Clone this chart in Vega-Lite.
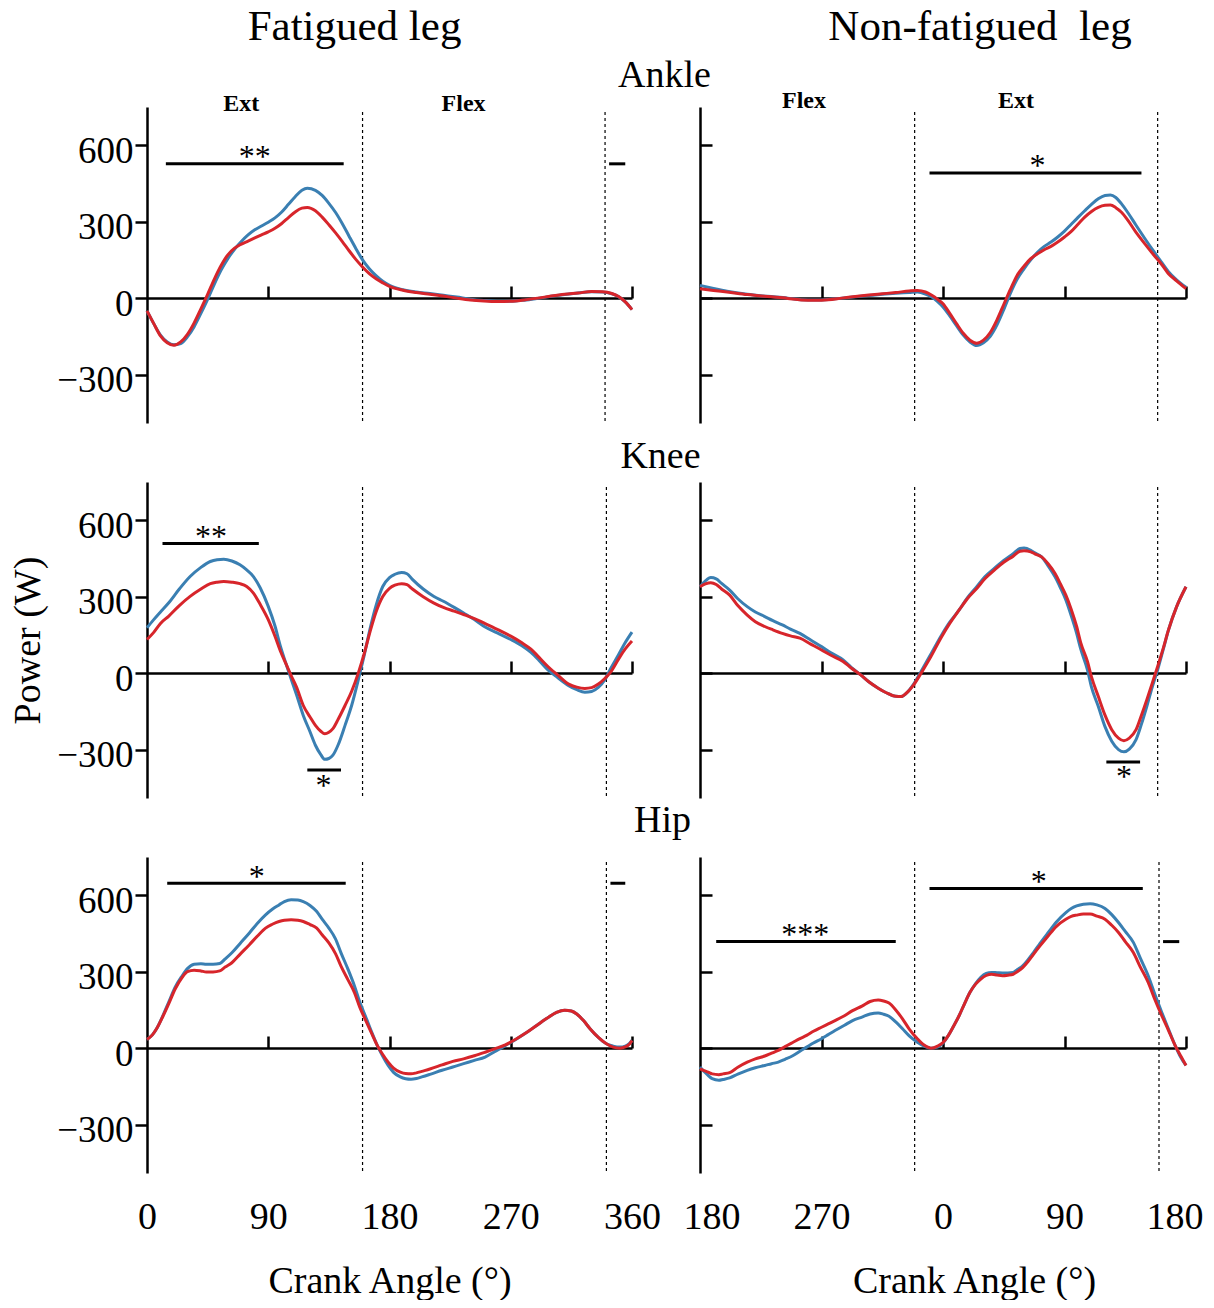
{
"$schema": "https://vega.github.io/schema/vega-lite/v6.json",
"background": "white",
"padding": {"left": 9, "top": 6, "right": 0, "bottom": 0},
"config": {
  "font": "Liberation Serif",
  "view": {"stroke": null},
  "axis": {"grid": false, "domainColor": "black", "tickColor": "black", "labelColor": "black", "titleColor": "black", "labelFont": "Liberation Serif", "titleFont": "Liberation Serif", "titleFontWeight": "normal"},
  "title": {"font": "Liberation Serif", "fontWeight": "normal", "color": "black"}
},
"datasets": {
"v": [{"p":"AL","a":160},{"p":"AL","a":340},{"p":"KL","a":160},{"p":"KL","a":341},{"p":"HL","a":160},{"p":"HL","a":341},{"p":"AR","a":339},{"p":"AR","a":519},{"p":"KR","a":339},{"p":"KR","a":519},{"p":"HR","a":339},{"p":"HR","a":520}],
"b": [{"p":"AL","a":14,"a2":146,"w":527},{"p":"AL","a":343,"a2":355,"w":527},{"p":"AR","a":350,"a2":507,"w":491},{"p":"KL","a":11.5,"a2":83,"w":509},{"p":"KL","a":119,"a2":144,"w":-380},{"p":"KR","a":481,"a2":506,"w":-349},{"p":"HL","a":15,"a2":147.5,"w":647},{"p":"HL","a":344,"a2":355,"w":647},{"p":"HR","a":192,"a2":325,"w":418},{"p":"HR","a":350,"a2":508,"w":626},{"p":"HR","a":523,"a2":535,"w":418}],
"t": [{"p":"AL","a":80,"w":514,"t":"**"},{"p":"AR","a":430,"w":478,"t":"*"},{"p":"KL","a":47.5,"w":496,"t":"**"},{"p":"KL","a":131,"w":-483,"t":"*"},{"p":"KR","a":494,"w":-447,"t":"*"},{"p":"HL","a":81.5,"w":634,"t":"*"},{"p":"HR","a":258,"w":405,"t":"***"},{"p":"HR","a":431,"w":613,"t":"*"}],
"e": [{"p":"AL","a":70,"w":760,"t":"Ext"},{"p":"AL","a":235,"w":760,"t":"Flex"},{"p":"AR","a":257,"w":772,"t":"Flex"},{"p":"AR","a":414,"w":772,"t":"Ext"}],
"c": [
{"p":"AL","s":"Pre","a":0,"w":-50},{"p":"AL","s":"Pre","a":5,"w":-100},{"p":"AL","s":"Pre","a":10,"w":-145},{"p":"AL","s":"Pre","a":15,"w":-172},{"p":"AL","s":"Pre","a":20,"w":-183},{"p":"AL","s":"Pre","a":25,"w":-178},{"p":"AL","s":"Pre","a":30,"w":-152},{"p":"AL","s":"Pre","a":35,"w":-112},{"p":"AL","s":"Pre","a":40,"w":-60},{"p":"AL","s":"Pre","a":45,"w":-5},{"p":"AL","s":"Pre","a":50,"w":55},{"p":"AL","s":"Pre","a":55,"w":110},{"p":"AL","s":"Pre","a":60,"w":155},{"p":"AL","s":"Pre","a":65,"w":192},{"p":"AL","s":"Pre","a":70,"w":222},{"p":"AL","s":"Pre","a":75,"w":248},{"p":"AL","s":"Pre","a":80,"w":268},{"p":"AL","s":"Pre","a":85,"w":283},{"p":"AL","s":"Pre","a":90,"w":298},{"p":"AL","s":"Pre","a":95,"w":315},{"p":"AL","s":"Pre","a":100,"w":338},{"p":"AL","s":"Pre","a":105,"w":368},{"p":"AL","s":"Pre","a":110,"w":398},{"p":"AL","s":"Pre","a":115,"w":423},{"p":"AL","s":"Pre","a":119,"w":431},{"p":"AL","s":"Pre","a":125,"w":423},{"p":"AL","s":"Pre","a":130,"w":403},{"p":"AL","s":"Pre","a":135,"w":372},{"p":"AL","s":"Pre","a":140,"w":336},{"p":"AL","s":"Pre","a":145,"w":292},{"p":"AL","s":"Pre","a":150,"w":243},{"p":"AL","s":"Pre","a":155,"w":195},{"p":"AL","s":"Pre","a":160,"w":150},{"p":"AL","s":"Pre","a":165,"w":115},{"p":"AL","s":"Pre","a":170,"w":88},{"p":"AL","s":"Pre","a":175,"w":66},{"p":"AL","s":"Pre","a":180,"w":50},{"p":"AL","s":"Pre","a":190,"w":33},{"p":"AL","s":"Pre","a":200,"w":24},{"p":"AL","s":"Pre","a":210,"w":18},{"p":"AL","s":"Pre","a":220,"w":11},{"p":"AL","s":"Pre","a":230,"w":4},{"p":"AL","s":"Pre","a":240,"w":-4},{"p":"AL","s":"Pre","a":250,"w":-9},{"p":"AL","s":"Pre","a":260,"w":-12},{"p":"AL","s":"Pre","a":270,"w":-12},{"p":"AL","s":"Pre","a":280,"w":-8},{"p":"AL","s":"Pre","a":290,"w":-1},{"p":"AL","s":"Pre","a":300,"w":7},{"p":"AL","s":"Pre","a":310,"w":14},{"p":"AL","s":"Pre","a":320,"w":20},{"p":"AL","s":"Pre","a":330,"w":25},{"p":"AL","s":"Pre","a":338,"w":24},{"p":"AL","s":"Pre","a":345,"w":17},{"p":"AL","s":"Pre","a":350,"w":6},{"p":"AL","s":"Pre","a":355,"w":-15},{"p":"AL","s":"Pre","a":360,"w":-45},
{"p":"AL","s":"Post","a":0,"w":-50},{"p":"AL","s":"Post","a":5,"w":-100},{"p":"AL","s":"Post","a":10,"w":-148},{"p":"AL","s":"Post","a":15,"w":-175},{"p":"AL","s":"Post","a":20,"w":-185},{"p":"AL","s":"Post","a":25,"w":-172},{"p":"AL","s":"Post","a":30,"w":-142},{"p":"AL","s":"Post","a":35,"w":-97},{"p":"AL","s":"Post","a":40,"w":-42},{"p":"AL","s":"Post","a":45,"w":15},{"p":"AL","s":"Post","a":50,"w":75},{"p":"AL","s":"Post","a":55,"w":128},{"p":"AL","s":"Post","a":60,"w":170},{"p":"AL","s":"Post","a":65,"w":196},{"p":"AL","s":"Post","a":70,"w":212},{"p":"AL","s":"Post","a":75,"w":224},{"p":"AL","s":"Post","a":80,"w":236},{"p":"AL","s":"Post","a":85,"w":248},{"p":"AL","s":"Post","a":90,"w":260},{"p":"AL","s":"Post","a":95,"w":274},{"p":"AL","s":"Post","a":100,"w":293},{"p":"AL","s":"Post","a":105,"w":316},{"p":"AL","s":"Post","a":110,"w":338},{"p":"AL","s":"Post","a":115,"w":353},{"p":"AL","s":"Post","a":119,"w":356},{"p":"AL","s":"Post","a":125,"w":343},{"p":"AL","s":"Post","a":130,"w":318},{"p":"AL","s":"Post","a":135,"w":288},{"p":"AL","s":"Post","a":140,"w":256},{"p":"AL","s":"Post","a":145,"w":222},{"p":"AL","s":"Post","a":150,"w":186},{"p":"AL","s":"Post","a":155,"w":152},{"p":"AL","s":"Post","a":160,"w":122},{"p":"AL","s":"Post","a":165,"w":96},{"p":"AL","s":"Post","a":170,"w":76},{"p":"AL","s":"Post","a":175,"w":60},{"p":"AL","s":"Post","a":180,"w":46},{"p":"AL","s":"Post","a":190,"w":31},{"p":"AL","s":"Post","a":200,"w":22},{"p":"AL","s":"Post","a":210,"w":15},{"p":"AL","s":"Post","a":220,"w":8},{"p":"AL","s":"Post","a":230,"w":0},{"p":"AL","s":"Post","a":240,"w":-7},{"p":"AL","s":"Post","a":250,"w":-11},{"p":"AL","s":"Post","a":260,"w":-13},{"p":"AL","s":"Post","a":270,"w":-12},{"p":"AL","s":"Post","a":280,"w":-7},{"p":"AL","s":"Post","a":290,"w":0},{"p":"AL","s":"Post","a":300,"w":8},{"p":"AL","s":"Post","a":310,"w":15},{"p":"AL","s":"Post","a":320,"w":20},{"p":"AL","s":"Post","a":330,"w":26},{"p":"AL","s":"Post","a":338,"w":25},{"p":"AL","s":"Post","a":345,"w":18},{"p":"AL","s":"Post","a":350,"w":6},{"p":"AL","s":"Post","a":355,"w":-15},{"p":"AL","s":"Post","a":360,"w":-45},
{"p":"AR","s":"Pre","a":180,"w":50},{"p":"AR","s":"Pre","a":190,"w":38},{"p":"AR","s":"Pre","a":200,"w":27},{"p":"AR","s":"Pre","a":215,"w":15},{"p":"AR","s":"Pre","a":230,"w":7},{"p":"AR","s":"Pre","a":245,"w":0},{"p":"AR","s":"Pre","a":255,"w":-6},{"p":"AR","s":"Pre","a":265,"w":-7},{"p":"AR","s":"Pre","a":275,"w":-5},{"p":"AR","s":"Pre","a":285,"w":0},{"p":"AR","s":"Pre","a":295,"w":5},{"p":"AR","s":"Pre","a":305,"w":10},{"p":"AR","s":"Pre","a":315,"w":15},{"p":"AR","s":"Pre","a":325,"w":19},{"p":"AR","s":"Pre","a":335,"w":22},{"p":"AR","s":"Pre","a":341,"w":24},{"p":"AR","s":"Pre","a":347,"w":16},{"p":"AR","s":"Pre","a":352,"w":3},{"p":"AR","s":"Pre","a":356,"w":-14},{"p":"AR","s":"Pre","a":360,"w":-35},{"p":"AR","s":"Pre","a":365,"w":-70},{"p":"AR","s":"Pre","a":370,"w":-108},{"p":"AR","s":"Pre","a":375,"w":-145},{"p":"AR","s":"Pre","a":380,"w":-172},{"p":"AR","s":"Pre","a":385,"w":-186},{"p":"AR","s":"Pre","a":390,"w":-175},{"p":"AR","s":"Pre","a":395,"w":-150},{"p":"AR","s":"Pre","a":400,"w":-105},{"p":"AR","s":"Pre","a":405,"w":-45},{"p":"AR","s":"Pre","a":410,"w":20},{"p":"AR","s":"Pre","a":415,"w":75},{"p":"AR","s":"Pre","a":420,"w":115},{"p":"AR","s":"Pre","a":425,"w":150},{"p":"AR","s":"Pre","a":430,"w":180},{"p":"AR","s":"Pre","a":435,"w":203},{"p":"AR","s":"Pre","a":440,"w":220},{"p":"AR","s":"Pre","a":445,"w":240},{"p":"AR","s":"Pre","a":450,"w":263},{"p":"AR","s":"Pre","a":455,"w":290},{"p":"AR","s":"Pre","a":460,"w":317},{"p":"AR","s":"Pre","a":465,"w":343},{"p":"AR","s":"Pre","a":470,"w":368},{"p":"AR","s":"Pre","a":475,"w":390},{"p":"AR","s":"Pre","a":480,"w":403},{"p":"AR","s":"Pre","a":484,"w":405},{"p":"AR","s":"Pre","a":488,"w":395},{"p":"AR","s":"Pre","a":492,"w":372},{"p":"AR","s":"Pre","a":497,"w":335},{"p":"AR","s":"Pre","a":503,"w":286},{"p":"AR","s":"Pre","a":510,"w":230},{"p":"AR","s":"Pre","a":516,"w":184},{"p":"AR","s":"Pre","a":522,"w":140},{"p":"AR","s":"Pre","a":527,"w":104},{"p":"AR","s":"Pre","a":533,"w":72},{"p":"AR","s":"Pre","a":540,"w":43},
{"p":"AR","s":"Post","a":180,"w":37},{"p":"AR","s":"Post","a":190,"w":30},{"p":"AR","s":"Post","a":200,"w":24},{"p":"AR","s":"Post","a":215,"w":14},{"p":"AR","s":"Post","a":230,"w":6},{"p":"AR","s":"Post","a":245,"w":-1},{"p":"AR","s":"Post","a":255,"w":-7},{"p":"AR","s":"Post","a":265,"w":-8},{"p":"AR","s":"Post","a":275,"w":-6},{"p":"AR","s":"Post","a":285,"w":0},{"p":"AR","s":"Post","a":295,"w":6},{"p":"AR","s":"Post","a":305,"w":12},{"p":"AR","s":"Post","a":315,"w":17},{"p":"AR","s":"Post","a":325,"w":22},{"p":"AR","s":"Post","a":335,"w":28},{"p":"AR","s":"Post","a":341,"w":30},{"p":"AR","s":"Post","a":347,"w":24},{"p":"AR","s":"Post","a":352,"w":10},{"p":"AR","s":"Post","a":356,"w":-5},{"p":"AR","s":"Post","a":360,"w":-22},{"p":"AR","s":"Post","a":365,"w":-60},{"p":"AR","s":"Post","a":370,"w":-100},{"p":"AR","s":"Post","a":375,"w":-138},{"p":"AR","s":"Post","a":380,"w":-165},{"p":"AR","s":"Post","a":385,"w":-177},{"p":"AR","s":"Post","a":390,"w":-165},{"p":"AR","s":"Post","a":395,"w":-135},{"p":"AR","s":"Post","a":400,"w":-85},{"p":"AR","s":"Post","a":405,"w":-25},{"p":"AR","s":"Post","a":410,"w":35},{"p":"AR","s":"Post","a":415,"w":90},{"p":"AR","s":"Post","a":420,"w":125},{"p":"AR","s":"Post","a":425,"w":155},{"p":"AR","s":"Post","a":430,"w":174},{"p":"AR","s":"Post","a":435,"w":190},{"p":"AR","s":"Post","a":440,"w":203},{"p":"AR","s":"Post","a":445,"w":220},{"p":"AR","s":"Post","a":450,"w":240},{"p":"AR","s":"Post","a":455,"w":262},{"p":"AR","s":"Post","a":460,"w":290},{"p":"AR","s":"Post","a":465,"w":318},{"p":"AR","s":"Post","a":470,"w":340},{"p":"AR","s":"Post","a":475,"w":356},{"p":"AR","s":"Post","a":480,"w":364},{"p":"AR","s":"Post","a":484,"w":365},{"p":"AR","s":"Post","a":488,"w":355},{"p":"AR","s":"Post","a":492,"w":338},{"p":"AR","s":"Post","a":497,"w":305},{"p":"AR","s":"Post","a":503,"w":258},{"p":"AR","s":"Post","a":510,"w":210},{"p":"AR","s":"Post","a":516,"w":170},{"p":"AR","s":"Post","a":522,"w":132},{"p":"AR","s":"Post","a":527,"w":96},{"p":"AR","s":"Post","a":533,"w":68},{"p":"AR","s":"Post","a":540,"w":37},
{"p":"KL","s":"Pre","a":0,"w":178},{"p":"KL","s":"Pre","a":5,"w":210},{"p":"KL","s":"Pre","a":10,"w":240},{"p":"KL","s":"Pre","a":16,"w":275},{"p":"KL","s":"Pre","a":24,"w":330},{"p":"KL","s":"Pre","a":32,"w":379},{"p":"KL","s":"Pre","a":40,"w":415},{"p":"KL","s":"Pre","a":47,"w":438},{"p":"KL","s":"Pre","a":52,"w":445},{"p":"KL","s":"Pre","a":57,"w":447},{"p":"KL","s":"Pre","a":63,"w":440},{"p":"KL","s":"Pre","a":69,"w":425},{"p":"KL","s":"Pre","a":74,"w":405},{"p":"KL","s":"Pre","a":79,"w":379},{"p":"KL","s":"Pre","a":84,"w":335},{"p":"KL","s":"Pre","a":90,"w":262},{"p":"KL","s":"Pre","a":95,"w":185},{"p":"KL","s":"Pre","a":99,"w":106},{"p":"KL","s":"Pre","a":103,"w":40},{"p":"KL","s":"Pre","a":107,"w":-23},{"p":"KL","s":"Pre","a":111,"w":-85},{"p":"KL","s":"Pre","a":116,"w":-166},{"p":"KL","s":"Pre","a":121,"w":-230},{"p":"KL","s":"Pre","a":125,"w":-283},{"p":"KL","s":"Pre","a":129,"w":-320},{"p":"KL","s":"Pre","a":132,"w":-338},{"p":"KL","s":"Pre","a":135,"w":-335},{"p":"KL","s":"Pre","a":138,"w":-322},{"p":"KL","s":"Pre","a":142,"w":-280},{"p":"KL","s":"Pre","a":147,"w":-205},{"p":"KL","s":"Pre","a":152,"w":-125},{"p":"KL","s":"Pre","a":157,"w":-23},{"p":"KL","s":"Pre","a":161,"w":65},{"p":"KL","s":"Pre","a":166,"w":184},{"p":"KL","s":"Pre","a":170,"w":265},{"p":"KL","s":"Pre","a":175,"w":340},{"p":"KL","s":"Pre","a":180,"w":375},{"p":"KL","s":"Pre","a":184,"w":388},{"p":"KL","s":"Pre","a":189,"w":395},{"p":"KL","s":"Pre","a":193,"w":390},{"p":"KL","s":"Pre","a":197,"w":368},{"p":"KL","s":"Pre","a":205,"w":330},{"p":"KL","s":"Pre","a":213,"w":301},{"p":"KL","s":"Pre","a":220,"w":282},{"p":"KL","s":"Pre","a":228,"w":258},{"p":"KL","s":"Pre","a":235,"w":236},{"p":"KL","s":"Pre","a":243,"w":210},{"p":"KL","s":"Pre","a":250,"w":184},{"p":"KL","s":"Pre","a":260,"w":158},{"p":"KL","s":"Pre","a":270,"w":132},{"p":"KL","s":"Pre","a":278,"w":108},{"p":"KL","s":"Pre","a":285,"w":81},{"p":"KL","s":"Pre","a":291,"w":50},{"p":"KL","s":"Pre","a":297,"w":16},{"p":"KL","s":"Pre","a":305,"w":-18},{"p":"KL","s":"Pre","a":313,"w":-49},{"p":"KL","s":"Pre","a":319,"w":-65},{"p":"KL","s":"Pre","a":325,"w":-75},{"p":"KL","s":"Pre","a":330,"w":-72},{"p":"KL","s":"Pre","a":335,"w":-56},{"p":"KL","s":"Pre","a":340,"w":-25},{"p":"KL","s":"Pre","a":344,"w":16},{"p":"KL","s":"Pre","a":350,"w":72},{"p":"KL","s":"Pre","a":355,"w":120},{"p":"KL","s":"Pre","a":360,"w":161},
{"p":"KL","s":"Post","a":0,"w":132},{"p":"KL","s":"Post","a":5,"w":160},{"p":"KL","s":"Post","a":10,"w":195},{"p":"KL","s":"Post","a":16,"w":223},{"p":"KL","s":"Post","a":24,"w":265},{"p":"KL","s":"Post","a":32,"w":301},{"p":"KL","s":"Post","a":40,"w":330},{"p":"KL","s":"Post","a":47,"w":351},{"p":"KL","s":"Post","a":52,"w":357},{"p":"KL","s":"Post","a":57,"w":360},{"p":"KL","s":"Post","a":63,"w":357},{"p":"KL","s":"Post","a":69,"w":351},{"p":"KL","s":"Post","a":74,"w":340},{"p":"KL","s":"Post","a":79,"w":314},{"p":"KL","s":"Post","a":84,"w":270},{"p":"KL","s":"Post","a":90,"w":210},{"p":"KL","s":"Post","a":95,"w":145},{"p":"KL","s":"Post","a":99,"w":87},{"p":"KL","s":"Post","a":103,"w":38},{"p":"KL","s":"Post","a":107,"w":-10},{"p":"KL","s":"Post","a":111,"w":-55},{"p":"KL","s":"Post","a":116,"w":-127},{"p":"KL","s":"Post","a":121,"w":-172},{"p":"KL","s":"Post","a":125,"w":-205},{"p":"KL","s":"Post","a":129,"w":-228},{"p":"KL","s":"Post","a":132,"w":-238},{"p":"KL","s":"Post","a":135,"w":-232},{"p":"KL","s":"Post","a":138,"w":-218},{"p":"KL","s":"Post","a":142,"w":-180},{"p":"KL","s":"Post","a":147,"w":-127},{"p":"KL","s":"Post","a":152,"w":-70},{"p":"KL","s":"Post","a":157,"w":3},{"p":"KL","s":"Post","a":161,"w":72},{"p":"KL","s":"Post","a":166,"w":171},{"p":"KL","s":"Post","a":170,"w":240},{"p":"KL","s":"Post","a":175,"w":301},{"p":"KL","s":"Post","a":180,"w":333},{"p":"KL","s":"Post","a":184,"w":345},{"p":"KL","s":"Post","a":189,"w":351},{"p":"KL","s":"Post","a":193,"w":347},{"p":"KL","s":"Post","a":197,"w":330},{"p":"KL","s":"Post","a":205,"w":300},{"p":"KL","s":"Post","a":213,"w":275},{"p":"KL","s":"Post","a":220,"w":258},{"p":"KL","s":"Post","a":228,"w":243},{"p":"KL","s":"Post","a":235,"w":230},{"p":"KL","s":"Post","a":243,"w":214},{"p":"KL","s":"Post","a":250,"w":197},{"p":"KL","s":"Post","a":260,"w":172},{"p":"KL","s":"Post","a":270,"w":145},{"p":"KL","s":"Post","a":278,"w":120},{"p":"KL","s":"Post","a":285,"w":94},{"p":"KL","s":"Post","a":291,"w":62},{"p":"KL","s":"Post","a":297,"w":29},{"p":"KL","s":"Post","a":305,"w":-8},{"p":"KL","s":"Post","a":313,"w":-43},{"p":"KL","s":"Post","a":319,"w":-55},{"p":"KL","s":"Post","a":325,"w":-60},{"p":"KL","s":"Post","a":330,"w":-57},{"p":"KL","s":"Post","a":335,"w":-43},{"p":"KL","s":"Post","a":340,"w":-20},{"p":"KL","s":"Post","a":344,"w":3},{"p":"KL","s":"Post","a":350,"w":55},{"p":"KL","s":"Post","a":355,"w":95},{"p":"KL","s":"Post","a":360,"w":126},
{"p":"KR","s":"Pre","a":180,"w":339},{"p":"KR","s":"Pre","a":184,"w":362},{"p":"KR","s":"Pre","a":188,"w":375},{"p":"KR","s":"Pre","a":192,"w":370},{"p":"KR","s":"Pre","a":196,"w":352},{"p":"KR","s":"Pre","a":202,"w":326},{"p":"KR","s":"Pre","a":208,"w":292},{"p":"KR","s":"Pre","a":215,"w":261},{"p":"KR","s":"Pre","a":221,"w":240},{"p":"KR","s":"Pre","a":228,"w":222},{"p":"KR","s":"Pre","a":234,"w":206},{"p":"KR","s":"Pre","a":241,"w":189},{"p":"KR","s":"Pre","a":247,"w":173},{"p":"KR","s":"Pre","a":254,"w":156},{"p":"KR","s":"Pre","a":262,"w":130},{"p":"KR","s":"Pre","a":270,"w":104},{"p":"KR","s":"Pre","a":277,"w":80},{"p":"KR","s":"Pre","a":286,"w":52},{"p":"KR","s":"Pre","a":292,"w":23},{"p":"KR","s":"Pre","a":299,"w":-7},{"p":"KR","s":"Pre","a":305,"w":-34},{"p":"KR","s":"Pre","a":312,"w":-59},{"p":"KR","s":"Pre","a":318,"w":-77},{"p":"KR","s":"Pre","a":325,"w":-91},{"p":"KR","s":"Pre","a":329,"w":-92},{"p":"KR","s":"Pre","a":333,"w":-78},{"p":"KR","s":"Pre","a":338,"w":-45},{"p":"KR","s":"Pre","a":343,"w":0},{"p":"KR","s":"Pre","a":350,"w":65},{"p":"KR","s":"Pre","a":359,"w":150},{"p":"KR","s":"Pre","a":365,"w":200},{"p":"KR","s":"Pre","a":372,"w":248},{"p":"KR","s":"Pre","a":378,"w":295},{"p":"KR","s":"Pre","a":385,"w":339},{"p":"KR","s":"Pre","a":391,"w":378},{"p":"KR","s":"Pre","a":398,"w":411},{"p":"KR","s":"Pre","a":405,"w":442},{"p":"KR","s":"Pre","a":412,"w":469},{"p":"KR","s":"Pre","a":417,"w":489},{"p":"KR","s":"Pre","a":420,"w":491},{"p":"KR","s":"Pre","a":425,"w":482},{"p":"KR","s":"Pre","a":428,"w":472},{"p":"KR","s":"Pre","a":433,"w":456},{"p":"KR","s":"Pre","a":438,"w":420},{"p":"KR","s":"Pre","a":443,"w":378},{"p":"KR","s":"Pre","a":447,"w":335},{"p":"KR","s":"Pre","a":451,"w":287},{"p":"KR","s":"Pre","a":455,"w":225},{"p":"KR","s":"Pre","a":459,"w":156},{"p":"KR","s":"Pre","a":462,"w":95},{"p":"KR","s":"Pre","a":467,"w":13},{"p":"KR","s":"Pre","a":470,"w":-55},{"p":"KR","s":"Pre","a":475,"w":-130},{"p":"KR","s":"Pre","a":480,"w":-210},{"p":"KR","s":"Pre","a":485,"w":-267},{"p":"KR","s":"Pre","a":490,"w":-300},{"p":"KR","s":"Pre","a":494,"w":-309},{"p":"KR","s":"Pre","a":498,"w":-298},{"p":"KR","s":"Pre","a":503,"w":-261},{"p":"KR","s":"Pre","a":507,"w":-200},{"p":"KR","s":"Pre","a":511,"w":-130},{"p":"KR","s":"Pre","a":515,"w":-55},{"p":"KR","s":"Pre","a":519,"w":13},{"p":"KR","s":"Pre","a":523,"w":90},{"p":"KR","s":"Pre","a":527,"w":169},{"p":"KR","s":"Pre","a":533,"w":260},{"p":"KR","s":"Pre","a":540,"w":339},
{"p":"KR","s":"Post","a":180,"w":339},{"p":"KR","s":"Post","a":184,"w":350},{"p":"KR","s":"Post","a":188,"w":355},{"p":"KR","s":"Post","a":192,"w":348},{"p":"KR","s":"Post","a":196,"w":330},{"p":"KR","s":"Post","a":202,"w":306},{"p":"KR","s":"Post","a":208,"w":265},{"p":"KR","s":"Post","a":215,"w":228},{"p":"KR","s":"Post","a":221,"w":202},{"p":"KR","s":"Post","a":228,"w":183},{"p":"KR","s":"Post","a":234,"w":170},{"p":"KR","s":"Post","a":241,"w":156},{"p":"KR","s":"Post","a":247,"w":146},{"p":"KR","s":"Post","a":254,"w":137},{"p":"KR","s":"Post","a":262,"w":114},{"p":"KR","s":"Post","a":270,"w":91},{"p":"KR","s":"Post","a":277,"w":70},{"p":"KR","s":"Post","a":286,"w":46},{"p":"KR","s":"Post","a":292,"w":20},{"p":"KR","s":"Post","a":299,"w":-7},{"p":"KR","s":"Post","a":305,"w":-34},{"p":"KR","s":"Post","a":312,"w":-59},{"p":"KR","s":"Post","a":318,"w":-77},{"p":"KR","s":"Post","a":325,"w":-91},{"p":"KR","s":"Post","a":329,"w":-92},{"p":"KR","s":"Post","a":333,"w":-78},{"p":"KR","s":"Post","a":338,"w":-48},{"p":"KR","s":"Post","a":343,"w":-7},{"p":"KR","s":"Post","a":350,"w":55},{"p":"KR","s":"Post","a":359,"w":143},{"p":"KR","s":"Post","a":365,"w":195},{"p":"KR","s":"Post","a":372,"w":248},{"p":"KR","s":"Post","a":378,"w":292},{"p":"KR","s":"Post","a":385,"w":332},{"p":"KR","s":"Post","a":391,"w":370},{"p":"KR","s":"Post","a":398,"w":404},{"p":"KR","s":"Post","a":405,"w":435},{"p":"KR","s":"Post","a":412,"w":459},{"p":"KR","s":"Post","a":417,"w":478},{"p":"KR","s":"Post","a":420,"w":480},{"p":"KR","s":"Post","a":425,"w":476},{"p":"KR","s":"Post","a":428,"w":468},{"p":"KR","s":"Post","a":433,"w":456},{"p":"KR","s":"Post","a":438,"w":428},{"p":"KR","s":"Post","a":443,"w":391},{"p":"KR","s":"Post","a":447,"w":350},{"p":"KR","s":"Post","a":451,"w":306},{"p":"KR","s":"Post","a":455,"w":250},{"p":"KR","s":"Post","a":459,"w":183},{"p":"KR","s":"Post","a":462,"w":120},{"p":"KR","s":"Post","a":467,"w":46},{"p":"KR","s":"Post","a":470,"w":-15},{"p":"KR","s":"Post","a":475,"w":-91},{"p":"KR","s":"Post","a":480,"w":-165},{"p":"KR","s":"Post","a":485,"w":-222},{"p":"KR","s":"Post","a":490,"w":-255},{"p":"KR","s":"Post","a":494,"w":-265},{"p":"KR","s":"Post","a":498,"w":-255},{"p":"KR","s":"Post","a":503,"w":-222},{"p":"KR","s":"Post","a":507,"w":-165},{"p":"KR","s":"Post","a":511,"w":-104},{"p":"KR","s":"Post","a":515,"w":-40},{"p":"KR","s":"Post","a":519,"w":26},{"p":"KR","s":"Post","a":523,"w":95},{"p":"KR","s":"Post","a":527,"w":169},{"p":"KR","s":"Post","a":533,"w":260},{"p":"KR","s":"Post","a":540,"w":339},
{"p":"HL","s":"Pre","a":0,"w":34},{"p":"HL","s":"Pre","a":4,"w":52},{"p":"HL","s":"Pre","a":7,"w":75},{"p":"HL","s":"Pre","a":12,"w":130},{"p":"HL","s":"Pre","a":16,"w":179},{"p":"HL","s":"Pre","a":21,"w":240},{"p":"HL","s":"Pre","a":26,"w":283},{"p":"HL","s":"Pre","a":30,"w":312},{"p":"HL","s":"Pre","a":35,"w":329},{"p":"HL","s":"Pre","a":40,"w":331},{"p":"HL","s":"Pre","a":44,"w":329},{"p":"HL","s":"Pre","a":49,"w":329},{"p":"HL","s":"Pre","a":54,"w":332},{"p":"HL","s":"Pre","a":58,"w":350},{"p":"HL","s":"Pre","a":63,"w":374},{"p":"HL","s":"Pre","a":69,"w":410},{"p":"HL","s":"Pre","a":76,"w":452},{"p":"HL","s":"Pre","a":82,"w":490},{"p":"HL","s":"Pre","a":88,"w":523},{"p":"HL","s":"Pre","a":93,"w":545},{"p":"HL","s":"Pre","a":98,"w":562},{"p":"HL","s":"Pre","a":102,"w":575},{"p":"HL","s":"Pre","a":107,"w":582},{"p":"HL","s":"Pre","a":112,"w":581},{"p":"HL","s":"Pre","a":116,"w":575},{"p":"HL","s":"Pre","a":121,"w":560},{"p":"HL","s":"Pre","a":126,"w":536},{"p":"HL","s":"Pre","a":130,"w":506},{"p":"HL","s":"Pre","a":135,"w":471},{"p":"HL","s":"Pre","a":140,"w":428},{"p":"HL","s":"Pre","a":144,"w":374},{"p":"HL","s":"Pre","a":149,"w":312},{"p":"HL","s":"Pre","a":154,"w":244},{"p":"HL","s":"Pre","a":158,"w":180},{"p":"HL","s":"Pre","a":163,"w":114},{"p":"HL","s":"Pre","a":167,"w":60},{"p":"HL","s":"Pre","a":171,"w":10},{"p":"HL","s":"Pre","a":175,"w":-32},{"p":"HL","s":"Pre","a":179,"w":-68},{"p":"HL","s":"Pre","a":183,"w":-95},{"p":"HL","s":"Pre","a":188,"w":-113},{"p":"HL","s":"Pre","a":192,"w":-120},{"p":"HL","s":"Pre","a":196,"w":-122},{"p":"HL","s":"Pre","a":200,"w":-119},{"p":"HL","s":"Pre","a":204,"w":-113},{"p":"HL","s":"Pre","a":210,"w":-103},{"p":"HL","s":"Pre","a":219,"w":-87},{"p":"HL","s":"Pre","a":227,"w":-74},{"p":"HL","s":"Pre","a":235,"w":-61},{"p":"HL","s":"Pre","a":243,"w":-48},{"p":"HL","s":"Pre","a":251,"w":-35},{"p":"HL","s":"Pre","a":258,"w":-14},{"p":"HL","s":"Pre","a":266,"w":10},{"p":"HL","s":"Pre","a":274,"w":35},{"p":"HL","s":"Pre","a":282,"w":62},{"p":"HL","s":"Pre","a":290,"w":92},{"p":"HL","s":"Pre","a":298,"w":121},{"p":"HL","s":"Pre","a":304,"w":140},{"p":"HL","s":"Pre","a":310,"w":149},{"p":"HL","s":"Pre","a":315,"w":146},{"p":"HL","s":"Pre","a":319,"w":134},{"p":"HL","s":"Pre","a":324,"w":108},{"p":"HL","s":"Pre","a":329,"w":75},{"p":"HL","s":"Pre","a":335,"w":42},{"p":"HL","s":"Pre","a":341,"w":17},{"p":"HL","s":"Pre","a":346,"w":8},{"p":"HL","s":"Pre","a":351,"w":4},{"p":"HL","s":"Pre","a":355,"w":8},{"p":"HL","s":"Pre","a":358,"w":18},{"p":"HL","s":"Pre","a":360,"w":30},
{"p":"HL","s":"Post","a":0,"w":34},{"p":"HL","s":"Post","a":4,"w":52},{"p":"HL","s":"Post","a":7,"w":75},{"p":"HL","s":"Post","a":12,"w":127},{"p":"HL","s":"Post","a":16,"w":173},{"p":"HL","s":"Post","a":21,"w":233},{"p":"HL","s":"Post","a":26,"w":277},{"p":"HL","s":"Post","a":30,"w":300},{"p":"HL","s":"Post","a":35,"w":306},{"p":"HL","s":"Post","a":40,"w":303},{"p":"HL","s":"Post","a":44,"w":299},{"p":"HL","s":"Post","a":49,"w":299},{"p":"HL","s":"Post","a":54,"w":303},{"p":"HL","s":"Post","a":58,"w":318},{"p":"HL","s":"Post","a":63,"w":335},{"p":"HL","s":"Post","a":69,"w":368},{"p":"HL","s":"Post","a":76,"w":406},{"p":"HL","s":"Post","a":82,"w":440},{"p":"HL","s":"Post","a":88,"w":471},{"p":"HL","s":"Post","a":93,"w":486},{"p":"HL","s":"Post","a":98,"w":497},{"p":"HL","s":"Post","a":102,"w":502},{"p":"HL","s":"Post","a":107,"w":504},{"p":"HL","s":"Post","a":112,"w":502},{"p":"HL","s":"Post","a":116,"w":497},{"p":"HL","s":"Post","a":121,"w":485},{"p":"HL","s":"Post","a":126,"w":471},{"p":"HL","s":"Post","a":130,"w":445},{"p":"HL","s":"Post","a":135,"w":413},{"p":"HL","s":"Post","a":140,"w":370},{"p":"HL","s":"Post","a":144,"w":322},{"p":"HL","s":"Post","a":149,"w":270},{"p":"HL","s":"Post","a":154,"w":218},{"p":"HL","s":"Post","a":158,"w":160},{"p":"HL","s":"Post","a":163,"w":101},{"p":"HL","s":"Post","a":167,"w":55},{"p":"HL","s":"Post","a":171,"w":10},{"p":"HL","s":"Post","a":175,"w":-25},{"p":"HL","s":"Post","a":179,"w":-55},{"p":"HL","s":"Post","a":183,"w":-78},{"p":"HL","s":"Post","a":188,"w":-94},{"p":"HL","s":"Post","a":192,"w":-100},{"p":"HL","s":"Post","a":196,"w":-101},{"p":"HL","s":"Post","a":200,"w":-97},{"p":"HL","s":"Post","a":204,"w":-91},{"p":"HL","s":"Post","a":210,"w":-82},{"p":"HL","s":"Post","a":219,"w":-66},{"p":"HL","s":"Post","a":227,"w":-52},{"p":"HL","s":"Post","a":235,"w":-42},{"p":"HL","s":"Post","a":243,"w":-30},{"p":"HL","s":"Post","a":251,"w":-16},{"p":"HL","s":"Post","a":258,"w":-3},{"p":"HL","s":"Post","a":266,"w":13},{"p":"HL","s":"Post","a":274,"w":36},{"p":"HL","s":"Post","a":282,"w":62},{"p":"HL","s":"Post","a":290,"w":92},{"p":"HL","s":"Post","a":298,"w":121},{"p":"HL","s":"Post","a":304,"w":140},{"p":"HL","s":"Post","a":310,"w":149},{"p":"HL","s":"Post","a":315,"w":146},{"p":"HL","s":"Post","a":319,"w":134},{"p":"HL","s":"Post","a":324,"w":108},{"p":"HL","s":"Post","a":329,"w":75},{"p":"HL","s":"Post","a":335,"w":42},{"p":"HL","s":"Post","a":341,"w":17},{"p":"HL","s":"Post","a":346,"w":4},{"p":"HL","s":"Post","a":351,"w":0},{"p":"HL","s":"Post","a":355,"w":5},{"p":"HL","s":"Post","a":358,"w":15},{"p":"HL","s":"Post","a":360,"w":30},
{"p":"HR","s":"Pre","a":180,"w":-74},{"p":"HR","s":"Pre","a":183,"w":-92},{"p":"HR","s":"Pre","a":186,"w":-107},{"p":"HR","s":"Pre","a":189,"w":-120},{"p":"HR","s":"Pre","a":194,"w":-126},{"p":"HR","s":"Pre","a":197,"w":-123},{"p":"HR","s":"Pre","a":202,"w":-117},{"p":"HR","s":"Pre","a":208,"w":-102},{"p":"HR","s":"Pre","a":215,"w":-87},{"p":"HR","s":"Pre","a":221,"w":-77},{"p":"HR","s":"Pre","a":228,"w":-68},{"p":"HR","s":"Pre","a":233,"w":-61},{"p":"HR","s":"Pre","a":238,"w":-55},{"p":"HR","s":"Pre","a":243,"w":-44},{"p":"HR","s":"Pre","a":249,"w":-29},{"p":"HR","s":"Pre","a":254,"w":-12},{"p":"HR","s":"Pre","a":259,"w":4},{"p":"HR","s":"Pre","a":264,"w":20},{"p":"HR","s":"Pre","a":270,"w":37},{"p":"HR","s":"Pre","a":275,"w":53},{"p":"HR","s":"Pre","a":280,"w":69},{"p":"HR","s":"Pre","a":287,"w":90},{"p":"HR","s":"Pre","a":293,"w":108},{"p":"HR","s":"Pre","a":300,"w":122},{"p":"HR","s":"Pre","a":306,"w":134},{"p":"HR","s":"Pre","a":312,"w":138},{"p":"HR","s":"Pre","a":316,"w":133},{"p":"HR","s":"Pre","a":320,"w":125},{"p":"HR","s":"Pre","a":325,"w":103},{"p":"HR","s":"Pre","a":330,"w":76},{"p":"HR","s":"Pre","a":335,"w":48},{"p":"HR","s":"Pre","a":341,"w":23},{"p":"HR","s":"Pre","a":346,"w":8},{"p":"HR","s":"Pre","a":351,"w":0},{"p":"HR","s":"Pre","a":356,"w":4},{"p":"HR","s":"Pre","a":360,"w":20},{"p":"HR","s":"Pre","a":364,"w":50},{"p":"HR","s":"Pre","a":368,"w":88},{"p":"HR","s":"Pre","a":372,"w":128},{"p":"HR","s":"Pre","a":376,"w":175},{"p":"HR","s":"Pre","a":380,"w":219},{"p":"HR","s":"Pre","a":384,"w":252},{"p":"HR","s":"Pre","a":388,"w":278},{"p":"HR","s":"Pre","a":392,"w":293},{"p":"HR","s":"Pre","a":396,"w":297},{"p":"HR","s":"Pre","a":400,"w":296},{"p":"HR","s":"Pre","a":404,"w":295},{"p":"HR","s":"Pre","a":408,"w":295},{"p":"HR","s":"Pre","a":412,"w":297},{"p":"HR","s":"Pre","a":415,"w":308},{"p":"HR","s":"Pre","a":419,"w":323},{"p":"HR","s":"Pre","a":423,"w":347},{"p":"HR","s":"Pre","a":427,"w":375},{"p":"HR","s":"Pre","a":432,"w":412},{"p":"HR","s":"Pre","a":438,"w":454},{"p":"HR","s":"Pre","a":444,"w":495},{"p":"HR","s":"Pre","a":451,"w":532},{"p":"HR","s":"Pre","a":455,"w":548},{"p":"HR","s":"Pre","a":459,"w":558},{"p":"HR","s":"Pre","a":464,"w":565},{"p":"HR","s":"Pre","a":469,"w":567},{"p":"HR","s":"Pre","a":474,"w":562},{"p":"HR","s":"Pre","a":480,"w":548},{"p":"HR","s":"Pre","a":485,"w":524},{"p":"HR","s":"Pre","a":490,"w":493},{"p":"HR","s":"Pre","a":495,"w":458},{"p":"HR","s":"Pre","a":501,"w":415},{"p":"HR","s":"Pre","a":506,"w":355},{"p":"HR","s":"Pre","a":512,"w":284},{"p":"HR","s":"Pre","a":517,"w":210},{"p":"HR","s":"Pre","a":522,"w":141},{"p":"HR","s":"Pre","a":527,"w":75},{"p":"HR","s":"Pre","a":532,"w":10},{"p":"HR","s":"Pre","a":536,"w":-35},{"p":"HR","s":"Pre","a":540,"w":-68},
{"p":"HR","s":"Post","a":180,"w":-81},{"p":"HR","s":"Post","a":183,"w":-88},{"p":"HR","s":"Post","a":186,"w":-94},{"p":"HR","s":"Post","a":189,"w":-101},{"p":"HR","s":"Post","a":194,"w":-104},{"p":"HR","s":"Post","a":197,"w":-101},{"p":"HR","s":"Post","a":202,"w":-96},{"p":"HR","s":"Post","a":208,"w":-75},{"p":"HR","s":"Post","a":215,"w":-55},{"p":"HR","s":"Post","a":221,"w":-42},{"p":"HR","s":"Post","a":228,"w":-31},{"p":"HR","s":"Post","a":233,"w":-20},{"p":"HR","s":"Post","a":238,"w":-9},{"p":"HR","s":"Post","a":243,"w":6},{"p":"HR","s":"Post","a":249,"w":23},{"p":"HR","s":"Post","a":254,"w":37},{"p":"HR","s":"Post","a":259,"w":50},{"p":"HR","s":"Post","a":264,"w":66},{"p":"HR","s":"Post","a":270,"w":82},{"p":"HR","s":"Post","a":275,"w":95},{"p":"HR","s":"Post","a":280,"w":108},{"p":"HR","s":"Post","a":287,"w":127},{"p":"HR","s":"Post","a":293,"w":147},{"p":"HR","s":"Post","a":300,"w":165},{"p":"HR","s":"Post","a":306,"w":183},{"p":"HR","s":"Post","a":312,"w":189},{"p":"HR","s":"Post","a":316,"w":185},{"p":"HR","s":"Post","a":320,"w":177},{"p":"HR","s":"Post","a":325,"w":150},{"p":"HR","s":"Post","a":330,"w":115},{"p":"HR","s":"Post","a":335,"w":75},{"p":"HR","s":"Post","a":341,"w":37},{"p":"HR","s":"Post","a":346,"w":12},{"p":"HR","s":"Post","a":351,"w":0},{"p":"HR","s":"Post","a":356,"w":8},{"p":"HR","s":"Post","a":360,"w":22},{"p":"HR","s":"Post","a":364,"w":50},{"p":"HR","s":"Post","a":368,"w":88},{"p":"HR","s":"Post","a":372,"w":128},{"p":"HR","s":"Post","a":376,"w":175},{"p":"HR","s":"Post","a":380,"w":219},{"p":"HR","s":"Post","a":384,"w":250},{"p":"HR","s":"Post","a":388,"w":271},{"p":"HR","s":"Post","a":392,"w":285},{"p":"HR","s":"Post","a":396,"w":290},{"p":"HR","s":"Post","a":400,"w":287},{"p":"HR","s":"Post","a":404,"w":284},{"p":"HR","s":"Post","a":408,"w":286},{"p":"HR","s":"Post","a":412,"w":290},{"p":"HR","s":"Post","a":415,"w":300},{"p":"HR","s":"Post","a":419,"w":316},{"p":"HR","s":"Post","a":423,"w":340},{"p":"HR","s":"Post","a":427,"w":368},{"p":"HR","s":"Post","a":432,"w":402},{"p":"HR","s":"Post","a":438,"w":441},{"p":"HR","s":"Post","a":444,"w":478},{"p":"HR","s":"Post","a":451,"w":506},{"p":"HR","s":"Post","a":455,"w":517},{"p":"HR","s":"Post","a":459,"w":522},{"p":"HR","s":"Post","a":464,"w":526},{"p":"HR","s":"Post","a":469,"w":526},{"p":"HR","s":"Post","a":474,"w":518},{"p":"HR","s":"Post","a":480,"w":506},{"p":"HR","s":"Post","a":485,"w":482},{"p":"HR","s":"Post","a":490,"w":454},{"p":"HR","s":"Post","a":495,"w":418},{"p":"HR","s":"Post","a":501,"w":375},{"p":"HR","s":"Post","a":506,"w":320},{"p":"HR","s":"Post","a":512,"w":258},{"p":"HR","s":"Post","a":517,"w":190},{"p":"HR","s":"Post","a":522,"w":128},{"p":"HR","s":"Post","a":527,"w":70},{"p":"HR","s":"Post","a":532,"w":10},{"p":"HR","s":"Post","a":536,"w":-30},{"p":"HR","s":"Post","a":540,"w":-68}
]
},
"columns": 2,
"spacing": {"row": 59, "column": 68},
"bounds": "flush",
"concat": [
{
 "width": 485, "height": 316,
 "title": {"text": "Fatigued leg", "fontSize": 43, "anchor": "middle", "dx": -35, "offset": 0, "baseline": "bottom"},
 "resolve": {"axis": {"x": "independent", "y": "independent"}},
 "layer": [
  {"data": {"name": "v"}, "transform": [{"filter": "datum.p == 'AL'"}], "mark": {"type": "rule", "strokeDash": [3, 3], "strokeWidth": 1.2, "color": "black"}, "encoding": {"x": {"field": "a", "type": "quantitative", "scale": {"domain": [0, 360], "nice": false, "zero": false}, "axis": null}, "y": {"datum": 730, "type": "quantitative", "scale": {"domain": [-490, 750], "nice": false, "zero": false}, "axis": null}, "y2": {"datum": -482}}},
  {"data": {"name": "c"}, "transform": [{"filter": "datum.p == 'AL'"}], "mark": {"type": "line", "strokeWidth": 3, "interpolate": "monotone"}, "encoding": {"x": {"field": "a", "type": "quantitative", "scale": {"domain": [0, 360], "nice": false, "zero": false}, "axis": {"orient": "top", "offset": -191, "values": [90, 180, 270, 360], "labels": false, "tickSize": 12, "tickWidth": 2.5, "domainWidth": 2.5, "title": null}}, "y": {"field": "w", "type": "quantitative", "scale": {"domain": [-490, 750], "nice": false, "zero": false}, "axis": {"values": [-300, 0, 300, 600], "tickSize": 12, "tickWidth": 2.5, "domainWidth": 2.5, "labelFontSize": 37, "labelPadding": 2, "labelOffset": 6, "title": null}}, "color": {"field": "s", "type": "nominal", "scale": {"domain": ["Pre", "Post"], "range": ["#3a7fb2", "#d7252b"]}, "legend": null}}},
  {"data": {"name": "b"}, "transform": [{"filter": "datum.p == 'AL'"}], "mark": {"type": "rule", "strokeWidth": 3, "color": "black"}, "encoding": {"x": {"field": "a", "type": "quantitative", "scale": {"domain": [0, 360], "nice": false, "zero": false}, "axis": null}, "x2": {"field": "a2"}, "y": {"field": "w", "type": "quantitative", "scale": {"domain": [-490, 750], "nice": false, "zero": false}, "axis": null}}},
  {"data": {"name": "t"}, "transform": [{"filter": "datum.p == 'AL'"}], "mark": {"type": "text", "fontSize": 32, "baseline": "alphabetic", "color": "black"}, "encoding": {"x": {"field": "a", "type": "quantitative", "scale": {"domain": [0, 360], "nice": false, "zero": false}, "axis": null}, "y": {"field": "w", "type": "quantitative", "scale": {"domain": [-490, 750], "nice": false, "zero": false}, "axis": null}, "text": {"field": "t"}}},
  {"data": {"name": "e"}, "transform": [{"filter": "datum.p == 'AL'"}], "mark": {"type": "text", "fontSize": 24, "fontWeight": "bold", "baseline": "middle", "color": "black"}, "encoding": {"x": {"field": "a", "type": "quantitative", "scale": {"domain": [0, 360], "nice": false, "zero": false}, "axis": null}, "y": {"field": "w", "type": "quantitative", "scale": {"domain": [-490, 750], "nice": false, "zero": false}, "axis": null}, "text": {"field": "t"}}}
 ]
},
{
 "width": 486, "height": 316,
 "title": {"text": "Non-fatigued\u00a0 leg", "fontSize": 43, "anchor": "middle", "dx": 37, "offset": -36, "baseline": "bottom"},
 "resolve": {"axis": {"x": "independent", "y": "independent"}},
 "layer": [
  {"data": {"name": "v"}, "transform": [{"filter": "datum.p == 'AR'"}], "mark": {"type": "rule", "strokeDash": [3, 3], "strokeWidth": 1.2, "color": "black"}, "encoding": {"x": {"field": "a", "type": "quantitative", "scale": {"domain": [180, 540], "nice": false, "zero": false}, "axis": null}, "y": {"datum": 730, "type": "quantitative", "scale": {"domain": [-490, 750], "nice": false, "zero": false}, "axis": null}, "y2": {"datum": -482}}},
  {"data": {"name": "c"}, "transform": [{"filter": "datum.p == 'AR'"}], "mark": {"type": "line", "strokeWidth": 3, "interpolate": "monotone"}, "encoding": {"x": {"field": "a", "type": "quantitative", "scale": {"domain": [180, 540], "nice": false, "zero": false}, "axis": {"orient": "top", "offset": -191, "values": [270, 360, 450, 540], "labels": false, "tickSize": 12, "tickWidth": 2.5, "domainWidth": 2.5, "title": "Ankle", "titleFontSize": 38, "titleAngle": 0, "titleAlign": "center", "titleBaseline": "alphabetic", "titleX": -36, "titleY": -212}}, "y": {"field": "w", "type": "quantitative", "scale": {"domain": [-490, 750], "nice": false, "zero": false}, "axis": {"values": [-300, 0, 300, 600], "tickSize": -12, "tickWidth": 2.5, "domainWidth": 2.5, "labels": false, "title": null}}, "color": {"field": "s", "type": "nominal", "scale": {"domain": ["Pre", "Post"], "range": ["#3a7fb2", "#d7252b"]}, "legend": null}}},
  {"data": {"name": "b"}, "transform": [{"filter": "datum.p == 'AR'"}], "mark": {"type": "rule", "strokeWidth": 3, "color": "black"}, "encoding": {"x": {"field": "a", "type": "quantitative", "scale": {"domain": [180, 540], "nice": false, "zero": false}, "axis": null}, "x2": {"field": "a2"}, "y": {"field": "w", "type": "quantitative", "scale": {"domain": [-490, 750], "nice": false, "zero": false}, "axis": null}}},
  {"data": {"name": "t"}, "transform": [{"filter": "datum.p == 'AR'"}], "mark": {"type": "text", "fontSize": 32, "baseline": "alphabetic", "color": "black"}, "encoding": {"x": {"field": "a", "type": "quantitative", "scale": {"domain": [180, 540], "nice": false, "zero": false}, "axis": null}, "y": {"field": "w", "type": "quantitative", "scale": {"domain": [-490, 750], "nice": false, "zero": false}, "axis": null}, "text": {"field": "t"}}},
  {"data": {"name": "e"}, "transform": [{"filter": "datum.p == 'AR'"}], "mark": {"type": "text", "fontSize": 24, "fontWeight": "bold", "baseline": "middle", "color": "black"}, "encoding": {"x": {"field": "a", "type": "quantitative", "scale": {"domain": [180, 540], "nice": false, "zero": false}, "axis": null}, "y": {"field": "w", "type": "quantitative", "scale": {"domain": [-490, 750], "nice": false, "zero": false}, "axis": null}, "text": {"field": "t"}}}
 ]
},
{
 "width": 485, "height": 316,
 "resolve": {"axis": {"x": "independent", "y": "independent"}},
 "layer": [
  {"data": {"name": "v"}, "transform": [{"filter": "datum.p == 'KL'"}], "mark": {"type": "rule", "strokeDash": [3, 3], "strokeWidth": 1.2, "color": "black"}, "encoding": {"x": {"field": "a", "type": "quantitative", "scale": {"domain": [0, 360], "nice": false, "zero": false}, "axis": null}, "y": {"datum": 730, "type": "quantitative", "scale": {"domain": [-490, 750], "nice": false, "zero": false}, "axis": null}, "y2": {"datum": -482}}},
  {"data": {"name": "c"}, "transform": [{"filter": "datum.p == 'KL'"}], "mark": {"type": "line", "strokeWidth": 3, "interpolate": "monotone"}, "encoding": {"x": {"field": "a", "type": "quantitative", "scale": {"domain": [0, 360], "nice": false, "zero": false}, "axis": {"orient": "top", "offset": -191, "values": [90, 180, 270, 360], "labels": false, "tickSize": 12, "tickWidth": 2.5, "domainWidth": 2.5, "title": null}}, "y": {"field": "w", "type": "quantitative", "scale": {"domain": [-490, 750], "nice": false, "zero": false}, "axis": {"values": [-300, 0, 300, 600], "tickSize": 12, "tickWidth": 2.5, "domainWidth": 2.5, "labelFontSize": 37, "labelPadding": 2, "labelOffset": 6, "title": "Power (W)", "titleFontSize": 38, "titlePadding": 9}}, "color": {"field": "s", "type": "nominal", "scale": {"domain": ["Pre", "Post"], "range": ["#3a7fb2", "#d7252b"]}, "legend": null}}},
  {"data": {"name": "b"}, "transform": [{"filter": "datum.p == 'KL'"}], "mark": {"type": "rule", "strokeWidth": 3, "color": "black"}, "encoding": {"x": {"field": "a", "type": "quantitative", "scale": {"domain": [0, 360], "nice": false, "zero": false}, "axis": null}, "x2": {"field": "a2"}, "y": {"field": "w", "type": "quantitative", "scale": {"domain": [-490, 750], "nice": false, "zero": false}, "axis": null}}},
  {"data": {"name": "t"}, "transform": [{"filter": "datum.p == 'KL'"}], "mark": {"type": "text", "fontSize": 32, "baseline": "alphabetic", "color": "black"}, "encoding": {"x": {"field": "a", "type": "quantitative", "scale": {"domain": [0, 360], "nice": false, "zero": false}, "axis": null}, "y": {"field": "w", "type": "quantitative", "scale": {"domain": [-490, 750], "nice": false, "zero": false}, "axis": null}, "text": {"field": "t"}}}
 ]
},
{
 "width": 486, "height": 316,
 "resolve": {"axis": {"x": "independent", "y": "independent"}},
 "layer": [
  {"data": {"name": "v"}, "transform": [{"filter": "datum.p == 'KR'"}], "mark": {"type": "rule", "strokeDash": [3, 3], "strokeWidth": 1.2, "color": "black"}, "encoding": {"x": {"field": "a", "type": "quantitative", "scale": {"domain": [180, 540], "nice": false, "zero": false}, "axis": null}, "y": {"datum": 730, "type": "quantitative", "scale": {"domain": [-490, 750], "nice": false, "zero": false}, "axis": null}, "y2": {"datum": -482}}},
  {"data": {"name": "c"}, "transform": [{"filter": "datum.p == 'KR'"}], "mark": {"type": "line", "strokeWidth": 3, "interpolate": "monotone"}, "encoding": {"x": {"field": "a", "type": "quantitative", "scale": {"domain": [180, 540], "nice": false, "zero": false}, "axis": {"orient": "top", "offset": -191, "values": [270, 360, 450, 540], "labels": false, "tickSize": 12, "tickWidth": 2.5, "domainWidth": 2.5, "title": "Knee", "titleFontSize": 38, "titleAngle": 0, "titleAlign": "center", "titleBaseline": "alphabetic", "titleX": -40, "titleY": -206}}, "y": {"field": "w", "type": "quantitative", "scale": {"domain": [-490, 750], "nice": false, "zero": false}, "axis": {"values": [-300, 0, 300, 600], "tickSize": -12, "tickWidth": 2.5, "domainWidth": 2.5, "labels": false, "title": null}}, "color": {"field": "s", "type": "nominal", "scale": {"domain": ["Pre", "Post"], "range": ["#3a7fb2", "#d7252b"]}, "legend": null}}},
  {"data": {"name": "b"}, "transform": [{"filter": "datum.p == 'KR'"}], "mark": {"type": "rule", "strokeWidth": 3, "color": "black"}, "encoding": {"x": {"field": "a", "type": "quantitative", "scale": {"domain": [180, 540], "nice": false, "zero": false}, "axis": null}, "x2": {"field": "a2"}, "y": {"field": "w", "type": "quantitative", "scale": {"domain": [-490, 750], "nice": false, "zero": false}, "axis": null}}},
  {"data": {"name": "t"}, "transform": [{"filter": "datum.p == 'KR'"}], "mark": {"type": "text", "fontSize": 32, "baseline": "alphabetic", "color": "black"}, "encoding": {"x": {"field": "a", "type": "quantitative", "scale": {"domain": [180, 540], "nice": false, "zero": false}, "axis": null}, "y": {"field": "w", "type": "quantitative", "scale": {"domain": [-490, 750], "nice": false, "zero": false}, "axis": null}, "text": {"field": "t"}}}
 ]
},
{
 "width": 485, "height": 316,
 "resolve": {"axis": {"x": "independent", "y": "independent"}},
 "layer": [
  {"data": {"name": "v"}, "transform": [{"filter": "datum.p == 'HL'"}], "mark": {"type": "rule", "strokeDash": [3, 3], "strokeWidth": 1.2, "color": "black"}, "encoding": {"x": {"field": "a", "type": "quantitative", "scale": {"domain": [0, 360], "nice": false, "zero": false}, "axis": {"orient": "bottom", "values": [0, 90, 180, 270, 360], "labelFlush": false, "ticks": false, "domain": false, "labelFontSize": 38, "labelPadding": 25, "title": "Crank Angle (°)", "titleFontSize": 38, "titlePadding": 26}}, "y": {"datum": 730, "type": "quantitative", "scale": {"domain": [-490, 750], "nice": false, "zero": false}, "axis": null}, "y2": {"datum": -482}}},
  {"data": {"name": "c"}, "transform": [{"filter": "datum.p == 'HL'"}], "mark": {"type": "line", "strokeWidth": 3, "interpolate": "monotone"}, "encoding": {"x": {"field": "a", "type": "quantitative", "scale": {"domain": [0, 360], "nice": false, "zero": false}, "axis": {"orient": "top", "offset": -191, "values": [90, 180, 270, 360], "labels": false, "tickSize": 12, "tickWidth": 2.5, "domainWidth": 2.5, "title": null}}, "y": {"field": "w", "type": "quantitative", "scale": {"domain": [-490, 750], "nice": false, "zero": false}, "axis": {"values": [-300, 0, 300, 600], "tickSize": 12, "tickWidth": 2.5, "domainWidth": 2.5, "labelFontSize": 37, "labelPadding": 2, "labelOffset": 6, "title": null}}, "color": {"field": "s", "type": "nominal", "scale": {"domain": ["Pre", "Post"], "range": ["#3a7fb2", "#d7252b"]}, "legend": null}}},
  {"data": {"name": "b"}, "transform": [{"filter": "datum.p == 'HL'"}], "mark": {"type": "rule", "strokeWidth": 3, "color": "black"}, "encoding": {"x": {"field": "a", "type": "quantitative", "scale": {"domain": [0, 360], "nice": false, "zero": false}, "axis": null}, "x2": {"field": "a2"}, "y": {"field": "w", "type": "quantitative", "scale": {"domain": [-490, 750], "nice": false, "zero": false}, "axis": null}}},
  {"data": {"name": "t"}, "transform": [{"filter": "datum.p == 'HL'"}], "mark": {"type": "text", "fontSize": 32, "baseline": "alphabetic", "color": "black"}, "encoding": {"x": {"field": "a", "type": "quantitative", "scale": {"domain": [0, 360], "nice": false, "zero": false}, "axis": null}, "y": {"field": "w", "type": "quantitative", "scale": {"domain": [-490, 750], "nice": false, "zero": false}, "axis": null}, "text": {"field": "t"}}}
 ]
},
{
 "width": 486, "height": 316,
 "resolve": {"axis": {"x": "independent", "y": "independent"}},
 "layer": [
  {"data": {"name": "v"}, "transform": [{"filter": "datum.p == 'HR'"}], "mark": {"type": "rule", "strokeDash": [3, 3], "strokeWidth": 1.2, "color": "black"}, "encoding": {"x": {"field": "a", "type": "quantitative", "scale": {"domain": [180, 540], "nice": false, "zero": false}, "axis": {"orient": "bottom", "values": [180, 270, 360, 450, 540], "labelExpr": "datum.value % 360", "labelFlush": true, "labelFlushOffset": 17, "ticks": false, "domain": false, "labelFontSize": 38, "labelPadding": 25, "title": "Crank Angle (°)", "titleFontSize": 38, "titlePadding": 26, "titleX": 274}}, "y": {"datum": 730, "type": "quantitative", "scale": {"domain": [-490, 750], "nice": false, "zero": false}, "axis": null}, "y2": {"datum": -482}}},
  {"data": {"name": "c"}, "transform": [{"filter": "datum.p == 'HR'"}], "mark": {"type": "line", "strokeWidth": 3, "interpolate": "monotone"}, "encoding": {"x": {"field": "a", "type": "quantitative", "scale": {"domain": [180, 540], "nice": false, "zero": false}, "axis": {"orient": "top", "offset": -191, "values": [270, 360, 450, 540], "labels": false, "tickSize": 12, "tickWidth": 2.5, "domainWidth": 2.5, "title": "Hip", "titleFontSize": 38, "titleAngle": 0, "titleAlign": "center", "titleBaseline": "alphabetic", "titleX": -38, "titleY": -217}}, "y": {"field": "w", "type": "quantitative", "scale": {"domain": [-490, 750], "nice": false, "zero": false}, "axis": {"values": [-300, 0, 300, 600], "tickSize": -12, "tickWidth": 2.5, "domainWidth": 2.5, "labels": false, "title": null}}, "color": {"field": "s", "type": "nominal", "scale": {"domain": ["Pre", "Post"], "range": ["#3a7fb2", "#d7252b"]}, "legend": null}}},
  {"data": {"name": "b"}, "transform": [{"filter": "datum.p == 'HR'"}], "mark": {"type": "rule", "strokeWidth": 3, "color": "black"}, "encoding": {"x": {"field": "a", "type": "quantitative", "scale": {"domain": [180, 540], "nice": false, "zero": false}, "axis": null}, "x2": {"field": "a2"}, "y": {"field": "w", "type": "quantitative", "scale": {"domain": [-490, 750], "nice": false, "zero": false}, "axis": null}}},
  {"data": {"name": "t"}, "transform": [{"filter": "datum.p == 'HR'"}], "mark": {"type": "text", "fontSize": 32, "baseline": "alphabetic", "color": "black"}, "encoding": {"x": {"field": "a", "type": "quantitative", "scale": {"domain": [180, 540], "nice": false, "zero": false}, "axis": null}, "y": {"field": "w", "type": "quantitative", "scale": {"domain": [-490, 750], "nice": false, "zero": false}, "axis": null}, "text": {"field": "t"}}}
 ]
}
]
}
